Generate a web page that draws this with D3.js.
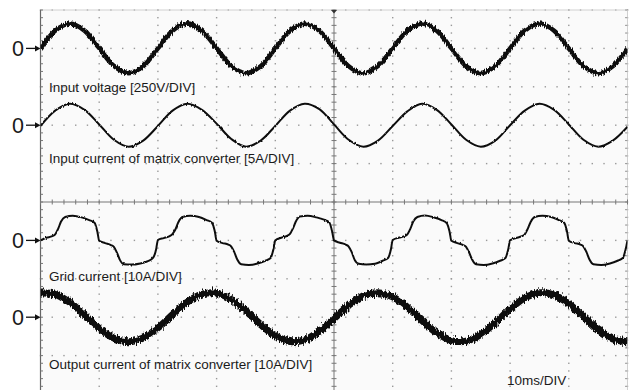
<!DOCTYPE html>
<html><head><meta charset="utf-8">
<script src="https://cdn.jsdelivr.net/npm/d3@7"></script>
<style>
html,body{margin:0;padding:0;background:#fff;}
svg{display:block;}
text{font-family:"Liberation Sans",Arial,sans-serif;fill:#1a1a1a;}
</style></head><body>
<svg id="c" width="635" height="390"></svg>
<script>
// ---------------- data ----------------
const timeMs = [0,2.5,5,7.5,10,12.5,15,17.5,20,22.5,25,27.5,30,32.5,35,37.5,40,42.5,45,47.5,50,
  52.5,55,57.5,60,62.5,65,67.5,70,72.5,75,77.5,80,82.5,85,87.5,90,92.5,95,97.5,100];
// Input voltage [V]
const inputVoltage = [0,115,162,116,2,-114,-161,-115,0,116,163,115,1,-115,-162,-116,0,114,161,115,0,
  -116,-163,-115,1,115,162,116,0,-115,-161,-114,0,116,162,115,-1,-115,-162,-116,0];
// Input current of matrix converter [A]
const inputCurrent = [-0.1,1.9,2.8,2.0,0.1,-1.9,-2.8,-2.0,-0.1,1.9,2.8,2.0,0.2,-1.8,-2.8,-2.0,-0.1,1.9,2.8,2.1,0.1,
  -1.9,-2.8,-2.0,-0.1,1.8,2.8,2.0,0.1,-1.9,-2.8,-2.0,0,1.9,2.8,2.0,0.1,-1.9,-2.8,-2.0,-0.2];
// Output current of matrix converter [A]
const outputCurrent = [6.28,5.97,3.86,0.58,-2.87,-5.46,-6.40,-5.41,-2.78,0.68,3.94,6.01,6.27,4.63,1.61,-1.91,-4.84,-6.32,-5.89,-3.68,-0.36,
  3.07,5.57,6.39,5.29,2.59,-0.90,-4.10,-6.08,-6.22,-4.48,-1.39,2.12,4.99,6.36,5.80,3.50,0.14,-3.26,-5.68,-6.38];
// Grid current [A]
const gridTimeMs = [
  0,1,2,2.5,3,3.5,4.2,5.5,7,8.3,9.2,9.7,
  10,11,12,12.5,13,13.5,14.2,15.5,17,18.3,19.2,19.7,
  20,21,22,22.5,23,23.5,24.2,25.5,27,28.3,29.2,29.7,
  30,31,32,32.5,33,33.5,34.2,35.5,37,38.3,39.2,39.7,
  40,41,42,42.5,43,43.5,44.2,45.5,47,48.3,49.2,49.7,
  50,51,52,52.5,53,53.5,54.2,55.5,57,58.3,59.2,59.7,
  60,61,62,62.5,63,63.5,64.2,65.5,67,68.3,69.2,69.7,
  70,71,72,72.5,73,73.5,74.2,75.5,77,78.3,79.2,79.7,
  80,81,82,82.5,83,83.5,84.2,85.5,87,88.3,89.2,89.7,
  90,91,92,92.5,93,93.5,94.2,95.5,97,98.3,99.2,99.7,100];
const gridCurrent = [
  0,0.7,1.1,1.6,3.0,4.9,6.1,6.4,6.0,5.3,4.6,2.2,
  -0.1,-0.7,-1.2,-1.7,-3.1,-5.0,-6.2,-6.3,-6.0,-5.4,-4.5,-2.3,
  0.1,0.6,1.1,1.7,2.9,4.8,6.1,6.4,6.1,5.3,4.6,2.3,
  -0.1,-0.7,-1.1,-1.6,-3.0,-4.9,-6.2,-6.4,-6.0,-5.3,-4.6,-2.2,
  0,0.7,1.2,1.7,3.1,4.9,6.2,6.4,6.0,5.4,4.7,2.2,
  0,-0.6,-1.1,-1.6,-3.0,-5.0,-6.1,-6.3,-6.1,-5.3,-4.6,-2.3,
  0.1,0.7,1.1,1.6,3.0,4.9,6.1,6.5,6.0,5.3,4.5,2.2,
  -0.1,-0.7,-1.2,-1.7,-3.1,-4.9,-6.2,-6.4,-6.0,-5.3,-4.6,-2.2,
  0,0.6,1.1,1.6,3.0,4.8,6.1,6.4,6.1,5.3,4.6,2.3,
  -0.1,-0.7,-1.1,-1.6,-3.0,-4.9,-6.2,-6.4,-6.0,-5.3,-4.6,-2.2,0];
const traceLabels = ["Input voltage [250V/DIV]","Input current of matrix converter [5A/DIV]",
  "Grid current [10A/DIV]","Output current of matrix converter [10A/DIV]"];
const unitsPerDiv = [250,5,10,10];
const timeBaseLabel = "10ms/DIV";
const zeroLabel = "0";

// ---------------- layout ----------------
const X0 = 40.5, X1 = 627.5, Y0 = 10, DY = 38.4, NX = 10, NY = 10;
const DX = (X1 - X0) / NX;
const Y1 = Y0 + NY * DY;
const XC = X0 + 5 * DX, YC = Y0 + 5 * DY;
const svg = d3.select("#c");
const x = d3.scaleLinear().domain([0, 100]).range([X0, X1]);

const defs = svg.append("defs");
function noiseFilter(id, freq, scale, seed) {
  const f = defs.append("filter").attr("id", id).attr("filterUnits", "userSpaceOnUse")
    .attr("x", 0).attr("y", 0).attr("width", 635).attr("height", 400);
  f.append("feTurbulence").attr("type", "fractalNoise").attr("baseFrequency", freq)
    .attr("numOctaves", 2).attr("seed", seed).attr("result", "t");
  f.append("feColorMatrix").attr("in", "t").attr("type", "matrix")
    .attr("values", "0 0 0 0 0.5  0 1 0 0 0  0 0 1 0 0  0 0 0 0 1").attr("result", "m");
  f.append("feDisplacementMap").attr("in", "SourceGraphic").attr("in2", "m")
    .attr("scale", scale).attr("xChannelSelector", "R").attr("yChannelSelector", "G");
}
noiseFilter("nHeavy", "0.9 0.2", 8, 4);
noiseFilter("nMid", "0.9 0.2", 6, 7);
noiseFilter("nLight", "0.9 0.2", 2.5, 9);
defs.append("clipPath").attr("id", "plotClip").append("rect")
  .attr("x", X0).attr("y", Y0 - 2).attr("width", X1 - X0).attr("height", Y1 - Y0 + 4);

// background
svg.append("rect").attr("x", X0).attr("y", Y0).attr("width", X1 - X0).attr("height", Y1 - Y0)
  .attr("fill", "#fafafa");

const g = svg.append("g");
// dotted grid
const minorX = d3.range(0, NX * 5 + 1).map(i => X0 + i * DX / 5);
const minorY = d3.range(0, NY * 5 + 1).map(i => Y0 + i * DY / 5);
const dots = [];
d3.range(0, NY + 1).filter(r => r !== 5).forEach(r => minorX.forEach(px => dots.push([px, Y0 + r * DY])));
d3.range(1, NX + 1).filter(c => c !== 5).forEach(c => minorY.forEach(py => dots.push([X0 + c * DX, py])));
g.selectAll("rect.dot").data(dots).join("rect").attr("class", "dot")
  .attr("x", d => d[0] - 0.7).attr("y", d => d[1] - 0.7).attr("width", 1.4).attr("height", 1.4)
  .attr("fill", "#999");

// frame
g.append("line").attr("x1", X0).attr("x2", X1).attr("y1", Y0).attr("y2", Y0).attr("stroke", "#d0d0d0");
g.append("line").attr("x1", X1).attr("x2", X1).attr("y1", Y0).attr("y2", Y1).attr("stroke", "#d0d0d0");
g.append("line").attr("x1", X0).attr("x2", X0).attr("y1", Y0).attr("y2", Y1).attr("stroke", "#666").attr("stroke-width", 1.2);
// border ticks
g.selectAll("line.lt").data(minorY).join("line").attr("class", "lt")
  .attr("x1", X0).attr("x2", X0 + 2.5).attr("y1", d => d).attr("y2", d => d).attr("stroke", "#777");
g.selectAll("line.rt").data(minorY).join("line").attr("class", "rt")
  .attr("x1", X1).attr("x2", X1 - 2.5).attr("y1", d => d).attr("y2", d => d).attr("stroke", "#999");

// centre cross with ticks
g.append("line").attr("x1", X0).attr("x2", X1).attr("y1", YC).attr("y2", YC).attr("stroke", "#777");
g.append("line").attr("x1", XC).attr("x2", XC).attr("y1", Y0).attr("y2", Y1).attr("stroke", "#777");
g.selectAll("line.ht").data(minorX).join("line").attr("class", "ht")
  .attr("x1", d => d).attr("x2", d => d).attr("y1", YC - 2.5).attr("y2", YC + 2.5).attr("stroke", "#777");
g.selectAll("line.vt").data(minorY).join("line").attr("class", "vt")
  .attr("x1", XC - 2.5).attr("x2", XC + 2.5).attr("y1", d => d).attr("y2", d => d).attr("stroke", "#777");
g.append("path").attr("d", `M${XC - 3},${Y0}L${XC + 3},${Y0}L${XC},${Y0 + 3.5}Z`).attr("fill", "#333");

// traces
const traces = [
  {t: timeMs, v: inputVoltage, row: 1, sw: 4.6, filt: "nMid", curve: d3.curveCatmullRom},
  {t: timeMs, v: inputCurrent, row: 3, sw: 2.0, filt: "nLight", curve: d3.curveCatmullRom},
  {t: gridTimeMs, v: gridCurrent, row: 6, sw: 2.0, filt: "nLight", curve: d3.curveMonotoneX},
  {t: timeMs, v: outputCurrent, row: 8, sw: 7, filt: "nHeavy", curve: d3.curveCatmullRom}
];
const tg = svg.append("g").attr("clip-path", "url(#plotClip)");
traces.forEach((tr, i) => {
  const zero = Y0 + tr.row * DY;
  const y = d3.scaleLinear().domain([0, unitsPerDiv[i]]).range([zero, zero - DY]);
  const line = d3.line().x((d, j) => x(tr.t[j])).y(d => y(d)).curve(tr.curve);
  tg.append("g").attr("filter", `url(#${tr.filt})`).append("path").datum(tr.v)
    .attr("d", line).attr("fill", "none").attr("stroke", "#111")
    .attr("stroke-width", tr.sw).attr("stroke-linejoin", "round");
  // zero marker
  svg.append("text").attr("x", 12).attr("y", zero + 8).attr("font-size", 21.5).text(zeroLabel);
  svg.append("line").attr("x1", 26).attr("x2", 36).attr("y1", zero).attr("y2", zero)
    .attr("stroke", "#111").attr("stroke-width", 1.3);
  svg.append("path").attr("d", `M${35},${zero - 3}L${40.5},${zero}L${35},${zero + 3}Z`).attr("fill", "#111");
});

// labels
const labelY = [92, 163, 281, 369];
traceLabels.forEach((s, i) => {
  svg.append("text").attr("x", 49).attr("y", labelY[i]).attr("font-size", 13.5).text(s);
});
svg.append("text").attr("x", 507).attr("y", 385).attr("font-size", 13.5).text(timeBaseLabel);
</script>
</body></html>
